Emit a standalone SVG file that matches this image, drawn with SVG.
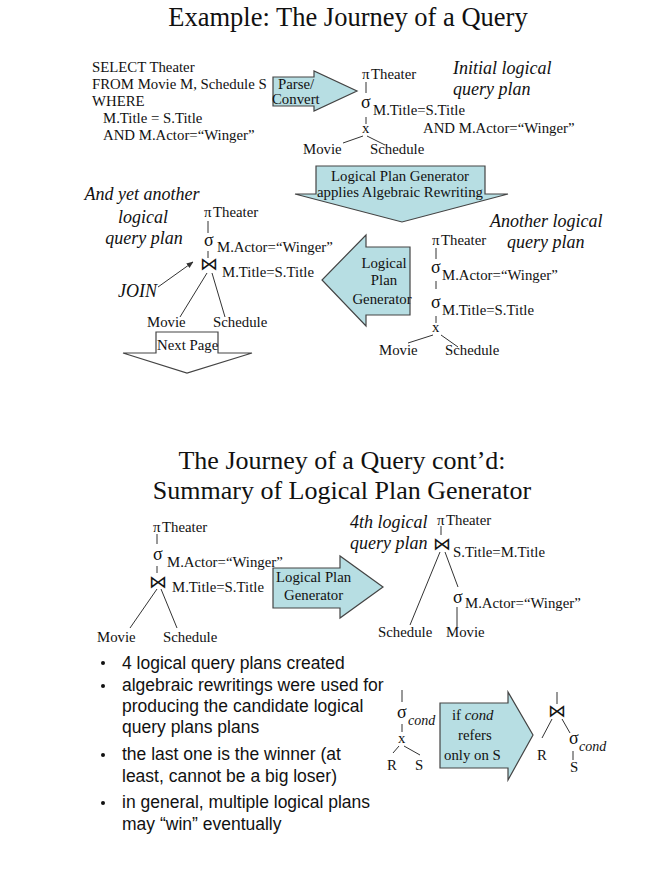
<svg xmlns="http://www.w3.org/2000/svg" width="667" height="886" viewBox="0 0 667 886">
<defs>
<marker id="ah" viewBox="0 0 10 10" refX="9" refY="5" markerWidth="7" markerHeight="7" orient="auto">
<path d="M0,1 L10,5 L0,9 Z" fill="#333"/>
</marker>
</defs>
<style>
text{font-family:"Liberation Serif","Times New Roman",serif;fill:#111;}
.t{font-size:14.8px;}
.h{font-size:26.5px;}
.h2{font-size:26px;}
.it{font-size:18px;font-style:italic;}
.sg{font-size:18px;}
.pi{font-size:15px;}
.bt{font-family:"DejaVu Sans","DejaVu Serif",sans-serif;font-size:18px;font-weight:200;}
.b{font-family:"Liberation Sans",Arial,sans-serif;font-size:17.5px;}
.arr{fill:#b7dee3;stroke:#444;stroke-width:1.2;}
.wht{fill:#fff;stroke:#444;stroke-width:1.2;}
.ln{stroke:#333;stroke-width:1;fill:none;}
.ci{font-size:14px;font-style:italic;}
</style>
<rect width="667" height="886" fill="#fff"/>

<text class="h" x="348" y="26" text-anchor="middle">Example: The Journey of a Query</text>

<g id="sql">
<text class="t" x="92" y="72">SELECT Theater</text>
<text class="t" x="92" y="89">FROM Movie M, Schedule S</text>
<text class="t" x="92" y="106">WHERE</text>
<text class="t" x="103" y="123">M.Title = S.Title</text>
<text class="t" x="103" y="140">AND M.Actor=“Winger”</text>
</g>

<g id="parse-arrow">
<polygon class="arr" points="273,77 314,77 314,71 357,91 314,111 314,106 273,106"/>
<text class="t" x="278" y="89">Parse/</text>
<text class="t" x="272" y="104">Convert</text>
</g>

<g id="plan1">
<text class="pi" x="362" y="79">π</text>
<text class="t" x="371" y="79">Theater</text>
<text class="sg" x="361" y="108">σ</text>
<text class="t" x="373" y="115">M.Title=S.Title</text>
<text class="t" x="423" y="133">AND M.Actor=“Winger”</text>
<text class="t" x="362" y="133">x</text>
<text class="t" x="303" y="154">Movie</text>
<text class="t" x="370" y="154">Schedule</text>
<text class="it" x="453" y="74">Initial logical</text>
<text class="it" x="453" y="95">query plan</text>
</g>

<g id="gen-down">
<polygon class="arr" points="316,166 485,166 485,194 508,194 402,222 295,194 316,194"/>
<text class="t" x="400" y="181" text-anchor="middle">Logical Plan Generator</text>
<text class="t" x="400" y="197" text-anchor="middle">applies Algebraic Rewriting</text>
</g>

<g id="plan2">
<text class="it" x="490" y="227">Another logical</text>
<text class="it" x="507" y="248">query plan</text>
<text class="pi" x="432" y="245">π</text>
<text class="t" x="441" y="245">Theater</text>
<text class="sg" x="431" y="273">σ</text>
<text class="t" x="442" y="280">M.Actor=“Winger”</text>
<text class="sg" x="431" y="308">σ</text>
<text class="t" x="442" y="315">M.Title=S.Title</text>
<text class="t" x="432" y="332">x</text>
<text class="t" x="379" y="355">Movie</text>
<text class="t" x="445" y="355">Schedule</text>
</g>

<g id="gen-left">
<polygon class="arr" points="410,247 366,247 366,235 322,280 366,326 366,315 410,315"/>
<text class="t" x="384" y="268" text-anchor="middle">Logical</text>
<text class="t" x="384" y="285" text-anchor="middle">Plan</text>
<text class="t" x="382" y="304" text-anchor="middle">Generator</text>
</g>

<g id="plan3">
<text class="it" x="142" y="200" text-anchor="middle">And yet another</text>
<text class="it" x="143" y="223" text-anchor="middle">logical</text>
<text class="it" x="144" y="244" text-anchor="middle">query plan</text>
<text class="pi" x="204" y="217">π</text>
<text class="t" x="213" y="217">Theater</text>
<text class="sg" x="204" y="246">σ</text>
<text class="t" x="217" y="252">M.Actor=“Winger”</text>
<text class="bt" x="200" y="270">⋈</text>
<text class="t" x="222" y="277">M.Title=S.Title</text>
<text class="t" x="147" y="327">Movie</text>
<text class="t" x="213" y="327">Schedule</text>
<text class="it" x="118" y="297">JOIN</text>
</g>

<g id="next-page">
<polygon class="wht" points="156,332 218,332 218,353 252,353 187,373 123,353 156,353"/>
<text class="t" x="157" y="350">Next Page</text>
</g>

<text class="h2" x="342" y="469" text-anchor="middle">The Journey of a Query cont’d:</text>
<text class="h2" x="342" y="499" text-anchor="middle">Summary of Logical Plan Generator</text>

<g id="plan3b">
<text class="pi" x="153" y="532">π</text>
<text class="t" x="162" y="532">Theater</text>
<text class="sg" x="153" y="560">σ</text>
<text class="t" x="167" y="567">M.Actor=“Winger”</text>
<text class="bt" x="149" y="588">⋈</text>
<text class="t" x="172" y="592">M.Title=S.Title</text>
<text class="t" x="97" y="642">Movie</text>
<text class="t" x="163" y="642">Schedule</text>
</g>

<g id="gen-right">
<polygon class="arr" points="273,568 340,568 340,556 383,587 340,618 340,608 273,608"/>
<text class="t" x="276" y="582">Logical Plan</text>
<text class="t" x="284" y="600">Generator</text>
</g>

<g id="plan4">
<text class="it" x="350" y="528">4th logical</text>
<text class="it" x="350" y="549">query plan</text>
<text class="pi" x="437" y="525">π</text>
<text class="t" x="446" y="525">Theater</text>
<text class="bt" x="433" y="550">⋈</text>
<text class="t" x="453" y="557">S.Title=M.Title</text>
<text class="sg" x="453" y="603">σ</text>
<text class="t" x="465" y="608">M.Actor=“Winger”</text>
<text class="t" x="378" y="637">Schedule</text>
<text class="t" x="446" y="637">Movie</text>
</g>

<g id="bullets">
<circle cx="103" cy="663" r="2" fill="#111"/>
<circle cx="103" cy="686" r="2" fill="#111"/>
<circle cx="103" cy="755" r="2" fill="#111"/>
<circle cx="103" cy="803" r="2" fill="#111"/>
<text class="b" x="122" y="669">4 logical query plans created</text>
<text class="b" x="122" y="691">algebraic rewritings were used for</text>
<text class="b" x="122" y="712">producing the candidate logical</text>
<text class="b" x="122" y="733">query plans plans</text>
<text class="b" x="122" y="760">the last one is the winner (at</text>
<text class="b" x="122" y="782">least, cannot be a big loser)</text>
<text class="b" x="122" y="808">in general, multiple logical plans</text>
<text class="b" x="122" y="830">may “win” eventually</text>
</g>

<g id="rule-left">
<text class="sg" x="397" y="718">σ</text>
<text class="ci" x="408" y="725">cond</text>
<text class="t" x="398" y="743">x</text>
<text class="t" x="387" y="770">R</text>
<text class="t" x="415" y="770">S</text>
</g>

<g id="rule-arrow">
<polygon class="arr" points="440,703 508,703 508,692 533,735 508,780 508,768 440,768"/>
<text class="t" x="452" y="720">if <tspan font-style="italic">cond</tspan></text>
<text class="t" x="458" y="740">refers</text>
<text class="t" x="444" y="760">only on S</text>
</g>

<g id="rule-right">
<text class="bt" x="548" y="717">⋈</text>
<text class="sg" x="569" y="744">σ</text>
<text class="ci" x="579" y="751">cond</text>
<text class="t" x="537" y="760">R</text>
<text class="t" x="570" y="772">S</text>
</g>

<g id="connectors">
<line class="ln" x1="366" y1="82" x2="366" y2="93"/>
<line class="ln" x1="366" y1="117" x2="366" y2="124"/>
<line class="ln" x1="363" y1="136" x2="343" y2="143"/>
<line class="ln" x1="367" y1="136" x2="385" y2="145"/>

<line class="ln" x1="436" y1="248" x2="436" y2="259"/>
<line class="ln" x1="436" y1="281" x2="436" y2="289"/>
<line class="ln" x1="436" y1="316" x2="436" y2="323"/>
<line class="ln" x1="433" y1="335" x2="408" y2="343"/>
<line class="ln" x1="441" y1="335" x2="458" y2="347"/>

<line class="ln" x1="208" y1="221" x2="208" y2="233"/>
<line class="ln" x1="208" y1="251" x2="208" y2="258"/>
<line class="ln" x1="207" y1="273" x2="180" y2="317"/>
<line class="ln" x1="212" y1="273" x2="225" y2="317"/>
<line class="ln" x1="158" y1="287" x2="193" y2="262" marker-end="url(#ah)"/>

<line class="ln" x1="157" y1="534" x2="157" y2="544"/>
<line class="ln" x1="157" y1="566" x2="157" y2="573"/>
<line class="ln" x1="157" y1="589" x2="130" y2="628"/>
<line class="ln" x1="161" y1="589" x2="177" y2="628"/>

<line class="ln" x1="441" y1="526" x2="441" y2="535"/>
<line class="ln" x1="440" y1="552" x2="410" y2="625"/>
<line class="ln" x1="445" y1="552" x2="458" y2="587"/>
<line class="ln" x1="457" y1="607" x2="457" y2="627"/>

<line class="ln" x1="402" y1="690" x2="402" y2="702"/>
<line class="ln" x1="402" y1="724" x2="402" y2="732"/>
<line class="ln" x1="399" y1="746" x2="393" y2="753"/>
<line class="ln" x1="404" y1="746" x2="420" y2="755"/>

<line class="ln" x1="557" y1="692" x2="557" y2="704"/>
<line class="ln" x1="552" y1="719" x2="542" y2="738"/>
<line class="ln" x1="562" y1="719" x2="570" y2="733"/>
<line class="ln" x1="573" y1="751" x2="573" y2="760"/>
</g>
</svg>
